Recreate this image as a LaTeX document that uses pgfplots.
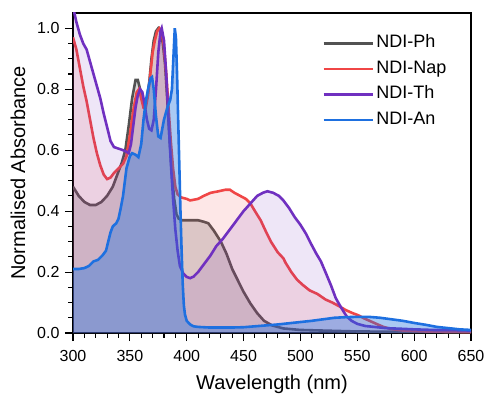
\documentclass[border=0pt]{standalone}
\usepackage{pgfplots}
\pgfplotsset{compat=1.18}
\usepackage{pgfplotstable}
\usepackage{fontspec}
\setmainfont{Liberation Sans}

\definecolor{cPh}{HTML}{525252}
\definecolor{cNap}{HTML}{F04646}
\definecolor{cTh}{HTML}{7030C0}
\definecolor{cAn}{HTML}{1E70E0}

\pgfplotstableread{
x y
300 0.48
305 0.45
310 0.43
315 0.42
320 0.42
325 0.43
330 0.45
335 0.48
340 0.53
343 0.56
346 0.60
349 0.68
352 0.77
355 0.83
357 0.83
359 0.80
361 0.77
363 0.76
365 0.77
367 0.82
369 0.90
371 0.96
373 0.99
375 1.00
377 0.99
379 0.95
381 0.88
383 0.76
385 0.63
387 0.52
389 0.44
391 0.39
393 0.375
396 0.37
400 0.37
405 0.37
410 0.37
415 0.365
419 0.36
424 0.335
430 0.30
435 0.26
440 0.21
444 0.18
450 0.135
456 0.097
462 0.065
468 0.04
475 0.025
485 0.015
500 0.01
550 0.005
650 0.003
}\tPh

\pgfplotstableread{
x y
300 0.97
303 0.93
306 0.87
309 0.81
312 0.76
315 0.70
318 0.64
321 0.59
324 0.55
327 0.52
330 0.505
333 0.51
336 0.525
340 0.54
344 0.555
347 0.58
350 0.65
353 0.73
356 0.79
358 0.80
360 0.77
362 0.74
364 0.74
366 0.78
368 0.85
370 0.92
372 0.96
374 0.99
376 1.00
378 0.99
380 0.94
382 0.85
384 0.74
386 0.63
388 0.54
390 0.48
392 0.455
395 0.445
400 0.44
403 0.435
410 0.44
415 0.45
421 0.46
428 0.465
434 0.47
438 0.47
442 0.46
447 0.45
452 0.44
456 0.425
460 0.40
465 0.37
470 0.33
474 0.30
480 0.265
485 0.245
487 0.23
492 0.20
497 0.175
502 0.158
508 0.14
515 0.128
522 0.11
528 0.10
534 0.088
540 0.075
546 0.065
551 0.058
556 0.048
562 0.038
568 0.028
573 0.02
580 0.013
590 0.008
610 0.005
650 0.003
}\tNap

\pgfplotstableread{
x y
300 1.07
303 1.02
306 0.98
309 0.95
312 0.93
315 0.89
318 0.85
321 0.81
324 0.77
327 0.72
330 0.675
333 0.63
336 0.61
340 0.605
344 0.60
347 0.595
349 0.59
351 0.62
353 0.68
355 0.74
357 0.78
359 0.80
361 0.79
363 0.75
365 0.70
367 0.67
369 0.665
371 0.70
373 0.80
375 0.92
377 0.99
378 1.00
380 0.96
382 0.85
384 0.70
386 0.56
388 0.44
390 0.34
392 0.27
394 0.22
397 0.195
400 0.184
403 0.18
406 0.185
410 0.20
415 0.225
421 0.255
426 0.285
432 0.31
438 0.34
444 0.37
450 0.40
456 0.425
462 0.45
467 0.46
471 0.465
476 0.46
481 0.45
485 0.435
490 0.41
495 0.38
500 0.355
505 0.325
509 0.295
514 0.26
518 0.235
522 0.20
527 0.155
531 0.115
534 0.095
538 0.07
541 0.053
545 0.04
550 0.03
557 0.023
565 0.02
575 0.016
588 0.014
600 0.012
617 0.01
630 0.01
650 0.008
}\tTh

\pgfplotstableread{
x y
300 0.21
305 0.21
310 0.213
314 0.22
318 0.235
322 0.24
326 0.255
329 0.27
331 0.30
333 0.33
335 0.35
338 0.36
340 0.375
342 0.41
344 0.45
347 0.54
350 0.58
352 0.59
355 0.585
357.5 0.577
360 0.62
362 0.70
364 0.76
366 0.80
368 0.835
369.5 0.84
371 0.80
373 0.71
375 0.645
377 0.64
380 0.70
383 0.74
385.5 0.765
387 0.80
388.5 0.92
389.5 1.00
390.5 0.97
391.5 0.85
392.5 0.70
393.5 0.55
394.5 0.40
395.5 0.27
396.5 0.16
397.5 0.09
398.5 0.06
400 0.04
403 0.028
406 0.022
410 0.02
420 0.018
430 0.018
440 0.018
450 0.019
460 0.022
470 0.025
480 0.028
490 0.032
500 0.036
510 0.04
520 0.045
530 0.05
540 0.052
550 0.053
560 0.053
570 0.05
580 0.045
590 0.04
600 0.033
610 0.027
620 0.02
630 0.016
640 0.012
650 0.01
}\tAn

\begin{document}
\begin{tikzpicture}
\begin{axis}[
  name=ax,
  scale only axis,
  width=398pt, height=320pt,
  xmin=300, xmax=650, ymin=0, ymax=1.05,
  xtick={300,350,...,650},
  minor xtick={310,320,...,640},
  ytick={0,0.2,...,1.0},
  minor ytick={0.05,0.1,0.15,0.25,0.3,0.35,0.45,0.5,0.55,0.65,0.7,0.75,0.85,0.9,0.95},
  yticklabel style={/pgf/number format/fixed, /pgf/number format/fixed zerofill, /pgf/number format/precision=1, xshift=-2pt},
  /pgf/number format/assume math mode=true,
  tick align=outside,
  xtick pos=bottom, ytick pos=left,
  major tick length=8pt, minor tick length=4.5pt,
  every tick/.style={black, line width=1.1pt},
  axis line style={line width=1.2pt},
  tick label style={font=\fontsize{16}{18}\selectfont},
  xticklabel style={yshift=-5.5pt},
  label style={font=\fontsize{20}{22}\selectfont},
  xlabel={Wavelength (nm)},
  ylabel={Normalised Absorbance},
  xlabel style={yshift=-7pt},
  ylabel style={yshift=5pt},
  clip=true,
  legend style={draw=none, fill=none, at={(0.626,0.94)}, anchor=north west,
    font=\fontsize{18}{20}\selectfont, inner sep=0pt, row sep=3.5pt,
    nodes={text height=13pt, text depth=4pt, inner sep=2.5pt}},
  legend cell align=left,
  legend image code/.code={\draw[#1] (0pt,0pt) -- (49pt,0pt);},
]
\addplot[draw=none, fill=cPh, fill opacity=0.22, forget plot] table {\tPh} \closedcycle;
\addplot[cPh, line width=2.6pt] table {\tPh};
\addlegendentry{NDI-Ph}
\addplot[draw=none, fill=cNap, fill opacity=0.13, forget plot] table {\tNap} \closedcycle;
\addplot[cNap, line width=2.6pt] table {\tNap};
\addlegendentry{NDI-Nap}
\addplot[draw=none, fill=cTh, fill opacity=0.12, forget plot] table {\tTh} \closedcycle;
\addplot[cTh, line width=2.6pt] table {\tTh};
\addlegendentry{NDI-Th}
\addplot[draw=none, fill=cAn, fill opacity=0.38, forget plot] table {\tAn} \closedcycle;
\addplot[cAn, line width=2.6pt] table {\tAn};
\addlegendentry{NDI-An}
\end{axis}
\pgfresetboundingbox
\path (ax.south west) ++(-73pt,-63pt) coordinate (bbA);
\path (ax.north east) ++(14pt,13pt) coordinate (bbB);
\path[use as bounding box] (bbA) rectangle (bbB);
\end{tikzpicture}
\end{document}
